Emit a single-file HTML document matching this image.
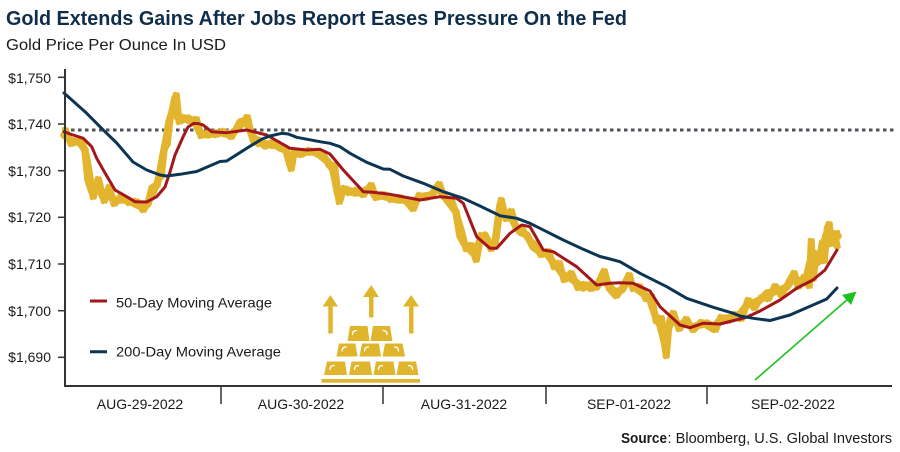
<!DOCTYPE html>
<html>
<head>
<meta charset="utf-8">
<style>
  html, body { margin: 0; padding: 0; background: #ffffff; }
  body { width: 900px; height: 452px; overflow: hidden; }
  svg { display: block; }
  text { font-family: "Liberation Sans", "DejaVu Sans", sans-serif; }
</style>
</head>
<body>
<svg width="900" height="452" viewBox="0 0 900 452" xmlns="http://www.w3.org/2000/svg">
  <rect x="0" y="0" width="900" height="452" fill="#ffffff"/>

  <!-- Title -->
  <text x="6" y="25" font-size="20" font-weight="bold" fill="#0f2e4c" textLength="621" lengthAdjust="spacingAndGlyphs">Gold Extends Gains After Jobs Report Eases Pressure On the Fed</text>
  <text x="6" y="50" font-size="16" fill="#1a1a1a" textLength="220" lengthAdjust="spacingAndGlyphs">Gold Price Per Ounce In USD</text>

  <!-- Y axis labels and ticks -->
  <g font-size="14" fill="#1a1a1a" text-anchor="end">
    <text x="51" y="83">$1,750</text>
    <text x="51" y="129">$1,740</text>
    <text x="51" y="176">$1,730</text>
    <text x="51" y="222">$1,720</text>
    <text x="51" y="269">$1,710</text>
    <text x="51" y="316">$1,700</text>
    <text x="51" y="362">$1,690</text>
  </g>
  <g stroke="#333333" stroke-width="1.5">
    <line x1="58" y1="77.3" x2="65" y2="77.3"/>
    <line x1="58" y1="124" x2="65" y2="124"/>
    <line x1="58" y1="170.7" x2="65" y2="170.7"/>
    <line x1="58" y1="217.3" x2="65" y2="217.3"/>
    <line x1="58" y1="264" x2="65" y2="264"/>
    <line x1="58" y1="310.7" x2="65" y2="310.7"/>
    <line x1="58" y1="357.3" x2="65" y2="357.3"/>
  </g>

  <!-- Dotted reference line -->
  <line x1="64" y1="130" x2="897" y2="130" stroke="#4d5358" stroke-width="3" stroke-dasharray="3.5 3.5"/>

  <!-- Gold price series -->
  <g fill="none" stroke="#e3b52e" stroke-linejoin="round" stroke-linecap="round">
    <polyline stroke-width="7.5" points="64,135 70,140 80,143 85,150 88,180 92,192 97,183 103,197 108,192 113,200 120,200 128,200 135,204 142,207 148,204 152,188 157,185 160,172 163,155 166,140 169,122 172,112 175,98 178,118 182,120 188,118 195,122 200,133 208,135 215,133 222,133 230,135 236,130 240,122 246,120 250,130 254,142 258,140 265,146 272,143 280,148 286,150 290,165 293,155 300,152 308,152 316,152 322,157 328,162 333,170 338,195 343,192 348,190 355,193 362,192 370,188 375,196 382,196 390,198 398,200 406,200 412,205 418,198 425,196 432,195 438,187 443,195 450,204 456,212 460,236 465,245 470,250 475,255 480,240 485,235 490,245 495,243 500,205 505,215 510,215 515,225 520,232 527,235 533,247 540,252 547,254 553,262 558,268 563,275 570,278 577,283 583,288 590,285 597,287 603,275 608,285 615,292 622,290 628,280 632,285 638,290 645,295 650,300 655,315 660,325 665,345 668,330 672,318 678,325 685,323 692,327 700,325 707,323 714,327 720,320 727,318 734,318 740,314 747,305 753,303 760,300 767,293 774,292 780,290 787,287 793,278 800,281 806,280 810,262 813,265 818,262 822,252 826,235 829,232 833,238 838,236"/>
    <polyline id="gz" stroke-width="4.5" points="64,129 70,145 80,139 85,155 88,172 92,198 97,178 103,202 108,186 113,205 120,195 128,204 135,200 142,211 148,200 152,193 157,180 160,177 163,149 166,145 169,117 172,117 175,94 178,123 182,116 188,122 195,118 200,137 208,131 215,136 222,130 230,138 236,127 240,126 246,116 250,134 254,138 258,145 265,142 272,147 280,145 286,154 290,170 293,151 300,156 308,149 316,155 322,154 328,166 333,164 338,203 343,187 348,194 355,189 362,196 370,184 375,199 382,193 390,201 398,196 406,203 412,210 418,194 425,199 432,192 438,183 443,198 450,199 456,217 460,230 465,250 470,244 475,261 480,234 485,240 490,250 495,238 500,199 505,220 510,210 515,229 520,227 527,239 533,243 540,256 547,250 553,268 558,262 563,281 570,272 577,289 583,283 590,290 597,283 603,270 608,289 615,297 622,286 628,274 632,290 638,285 645,300 650,295 655,322 660,317 665,357 668,322 672,312 678,330 685,318 692,331 700,321 707,327 714,331 720,316 727,322 734,313 740,320 747,299 753,309 760,297 767,300 774,285 780,296 787,283 793,272 797,288 803,276 808,287 810,240 812,280 815,252 818,262 821,242 823,262 826,228 828,223 830,245 833,232 836,247 838,232"/>
    <polyline stroke-width="3.5" transform="translate(3,0)" points="64,129 70,145 80,139 85,155 88,172 92,198 97,178 103,202 108,186 113,205 120,195 128,204 135,200 142,211 148,200 152,193 157,180 160,177 163,149 166,145 169,117 172,117 175,94 178,123 182,116 188,122 195,118 200,137 208,131 215,136 222,130 230,138 236,127 240,126 246,116 250,134 254,138 258,145 265,142 272,147 280,145 286,154 290,170 293,151 300,156 308,149 316,155 322,154 328,166 333,164 338,203 343,187 348,194 355,189 362,196 370,184 375,199 382,193 390,201 398,196 406,203 412,210 418,194 425,199 432,192 438,183 443,198 450,199 456,217 460,230 465,250 470,244 475,261 480,234 485,240 490,250 495,238 500,199 505,220 510,210 515,229 520,227 527,239 533,243 540,256 547,250 553,268 558,262 563,281 570,272 577,289 583,283 590,290 597,283 603,270 608,289 615,297 622,286 628,274 632,290 638,285 645,300 650,295 655,322 660,317 665,357 668,322 672,312 678,330 685,318 692,331 700,321 707,327 714,331 720,316 727,322 734,313 740,320 747,299 753,309 760,297 767,300 774,285 780,296 787,283 793,272 797,288 803,276 808,287 810,240 812,280 815,252 818,262 821,242 823,262 826,228 828,223 830,245 833,232 836,247"/>
  </g>

  <!-- 50-Day MA (red) -->
  <polyline fill="none" stroke="#a3161b" stroke-width="3" stroke-linejoin="round" stroke-linecap="round" points="64,131.7 70,134 83.3,138.3 91.7,146.7 96.7,158.3 103.3,170 115,190 126.7,196.7 135,201.7 146.7,202 156.7,196.7 165,187 170,172 175,155 183,137 188,127 193.5,123.5 198,123.5 203,125 211.7,131.7 226.7,132.7 246.7,130 266.7,135 290,148.3 306.7,150 320,149.3 330,154 343.3,170 363.3,191.7 373.3,192.3 390,194.3 420,200 440,196.7 456.7,198.3 463.3,203.3 476.7,236.7 490,248.3 496.7,248.3 510,233.3 521.7,225 530,226.7 543.3,250 553.3,251.7 576.7,266.7 596.7,285 610,283.3 620,282.7 633,283.3 650,291 660,306.7 680,325 690,327.7 703,323.3 720,324 740,319 747,317 760,311 780,300 797,288 813,280 825,270 837,250"/>

  <!-- 200-Day MA (navy) -->
  <polyline fill="none" stroke="#0c3553" stroke-width="3" stroke-linejoin="round" stroke-linecap="round" points="64,93 86.7,113.3 103.3,130 116.7,143 133,162 146.7,170 160,175 166.7,176 180,174.3 196.7,171.5 220,161.5 226.7,161 246.7,148.3 262,139 270,136 281.7,133.3 288.3,134 296.7,137.3 320,141.7 330,143.3 340,146.7 350,153.3 366.7,162.3 383.3,169 390,169.3 403.3,176 423.3,183.3 443.3,191.7 463.3,198.3 480,206 500,215.7 516.7,218.3 530,223.3 546.7,231.7 563.3,240 583.3,249.3 600,256.5 610,259 620,261.7 640,273.3 666.7,286.7 686.7,298.3 713.3,307.3 733.3,313.3 740,316 753.3,318.3 770,320.5 790,315 813,305 826.7,299 837,288"/>

  <!-- Axes -->
  <line x1="65" y1="69" x2="65" y2="387" stroke="#333333" stroke-width="2"/>
  <line x1="64" y1="386" x2="892" y2="386" stroke="#333333" stroke-width="2"/>
  <g stroke="#333333" stroke-width="1.5">
    <line x1="221" y1="386" x2="221" y2="404"/>
    <line x1="383" y1="386" x2="383" y2="404"/>
    <line x1="546" y1="386" x2="546" y2="404"/>
    <line x1="707" y1="386" x2="707" y2="404"/>
  </g>

  <!-- X labels -->
  <g font-size="14" fill="#1a1a1a" text-anchor="middle">
    <text x="140" y="409">AUG-29-2022</text>
    <text x="301" y="409">AUG-30-2022</text>
    <text x="464" y="409">AUG-31-2022</text>
    <text x="629" y="409">SEP-01-2022</text>
    <text x="793" y="409">SEP-02-2022</text>
  </g>

  <!-- Legend -->
  <line x1="90" y1="301" x2="107" y2="301" stroke="#a3161b" stroke-width="3"/>
  <text x="116" y="307.5" font-size="14" fill="#1a1a1a" textLength="156" lengthAdjust="spacingAndGlyphs">50-Day Moving Average</text>
  <line x1="90" y1="351.7" x2="107" y2="351.7" stroke="#0c3553" stroke-width="3"/>
  <text x="116" y="356.5" font-size="14" fill="#1a1a1a" textLength="165" lengthAdjust="spacingAndGlyphs">200-Day Moving Average</text>

  <!-- Gold bars icon -->
  <g fill="#e0b52e">
    <rect x="328.3" y="305" width="4.5" height="28.5"/>
    <polygon points="322.5,306.5 338,306.5 330.5,295"/>
    <rect x="369" y="295" width="4.5" height="22.5"/>
    <polygon points="363,297 379,297 371.2,285"/>
    <rect x="409" y="305" width="4.5" height="28.5"/>
    <polygon points="403,306.5 419,306.5 411.2,295"/>
    <polygon points="347.5,341 369.5,341 367.5,326 350,326"/>
    <polygon points="370.5,341 392.5,341 390,326 373,326"/>
    <polygon points="336.5,356.5 357.5,356.5 355.5,343.5 339,343.5"/>
    <polygon points="359.5,356.5 381,356.5 379,343.5 362,343.5"/>
    <polygon points="382.5,356.5 405,356.5 402.5,343.5 385,343.5"/>
    <polygon points="324,375 347,375 345,361.5 327,361.5"/>
    <polygon points="349,375 372,375 370,361.5 351.5,361.5"/>
    <polygon points="373.5,375 395.5,375 393.5,361.5 376,361.5"/>
    <polygon points="396.5,375 418.5,375 416,361.5 399,361.5"/>
    <rect x="321.5" y="379" width="98.5" height="3.7"/>
  </g>
  <g fill="none" stroke="#ffffff" stroke-width="1.3" stroke-linecap="round">
    <path d="M352.5,334.5 q0,-4 4,-4"/>
    <path d="M387,334.5 q0,-4 -4,-4"/>
    <path d="M342,351 q0,-4 4,-4"/>
    <path d="M364.5,351 q0,-4 4,-4"/>
    <path d="M398.5,351 q0,-4 -4,-4"/>
    <path d="M330,369.5 q0,-4 4,-4"/>
    <path d="M354.5,369.5 q0,-4 4,-4"/>
    <path d="M378.5,369.5 q0,-4 4,-4"/>
    <path d="M412.5,369.5 q0,-4 -4,-4"/>
  </g>

  <!-- Green arrow -->
  <line x1="755" y1="380" x2="848" y2="299" stroke="#1ec21e" stroke-width="1.6"/>
  <polygon points="856.5,291.5 851,305 842,295" fill="#1ec21e"/>

  <!-- Source -->
  <text x="621" y="443" font-size="15" font-weight="bold" fill="#1a1a1a" textLength="46" lengthAdjust="spacingAndGlyphs">Source</text>
  <text x="667.5" y="443" font-size="15" fill="#1a1a1a" textLength="224.5" lengthAdjust="spacingAndGlyphs">: Bloomberg, U.S. Global Investors</text>
</svg>
</body>
</html>
